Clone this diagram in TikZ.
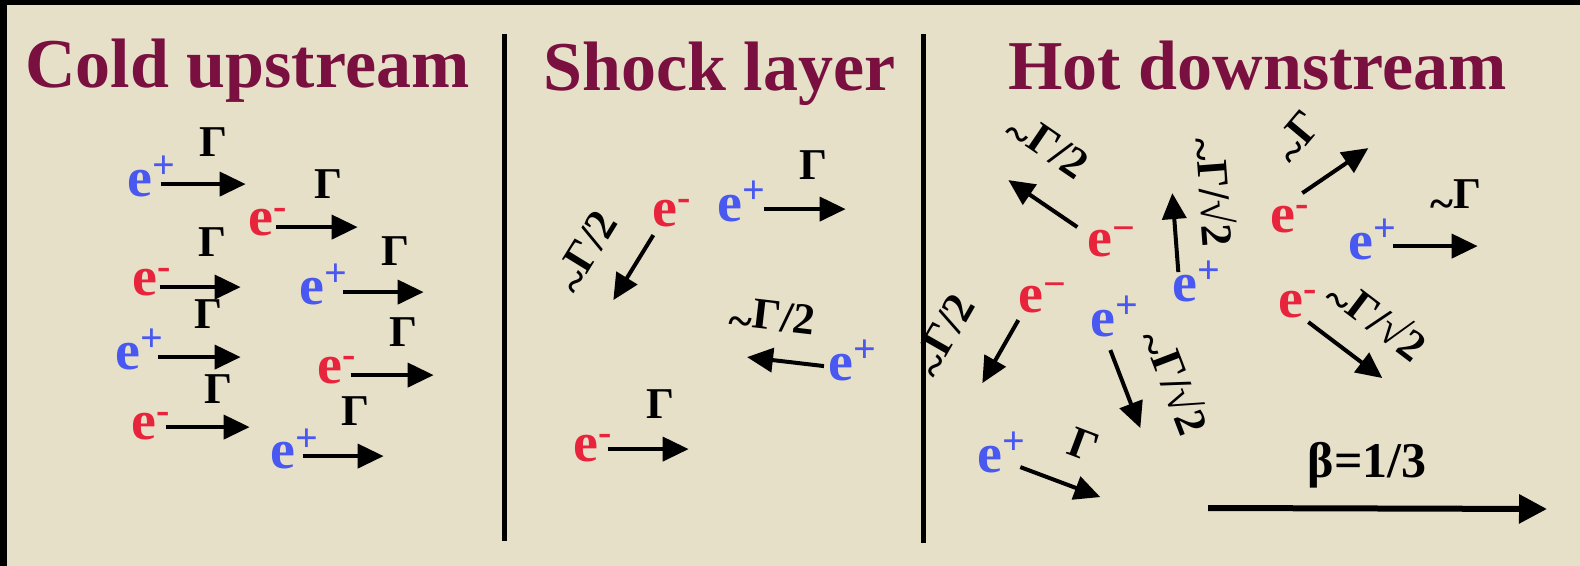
\documentclass[tikz,border=0pt]{standalone}
\usepackage{fontspec}
\setmainfont{Liberation Serif}
\usetikzlibrary{arrows.meta}

\definecolor{paper}{RGB}{231,224,201}
\definecolor{titlered}{RGB}{122,16,64}
\definecolor{posblue}{RGB}{72,88,240}
\definecolor{negred}{RGB}{232,36,60}

% charge sign set as a raised superscript that takes no width
\newcommand{\chg}[2]{\rlap{\smash{\raisebox{#1}{\fontsize{20}{20}\selectfont #2}}}}
\newcommand{\ePos}{e\chg{9pt}{+}}
\newcommand{\eNeg}{e\chg{8pt}{-}}
\newcommand{\eMin}{e\chg{7.5pt}{−}}
% tilde at mid height
\newcommand{\apx}{\raisebox{-.22em}{\textasciitilde}}

\begin{document}
\begin{tikzpicture}[
    x=0.5pt, y=-0.5pt,
    head/.style={font=\fontsize{35}{35}\selectfont\bfseries, text=titlered, anchor=base west, inner sep=0pt},
    eplus/.style={font=\fontsize{28}{28}\selectfont\bfseries, text=posblue, anchor=base west, inner sep=0pt},
    eminus/.style={font=\fontsize{28}{28}\selectfont\bfseries, text=negred, anchor=base west, inner sep=0pt},
    lab/.style={font=\fontsize{22}{22}\selectfont\bfseries, inner sep=0pt},
    arr/.style={-{Triangle[length=13pt,width=12pt]}, line width=2pt},
    divider/.style={line width=2.5pt}
]
\useasboundingbox (0,0) rectangle (1580,566);
\fill[paper] (0,0) rectangle (1580,566);
\fill[black] (0,0) rectangle (7,566);
\fill[black] (0,0) rectangle (1580,5);

% titles
\node[head] (cold)  at (25,88)   {Cold upstream};
\node[head] (shock) at (543,91)  {Shock layer};
\node[head] (hot)   at (1008,90) {Hot downstream};

% cold upstream
\node[eplus]  (c1) at (127,197) {\ePos};
\node[eminus] (c2) at (248,236) {\eNeg};
\node[eminus] (c3) at (132,296) {\eNeg};
\node[eplus]  (c4) at (299,305) {\ePos};
\node[eplus]  (c5) at (115,370) {\ePos};
\node[eminus] (c6) at (317,384) {\eNeg};
\node[eminus] (c7) at (131,440) {\eNeg};
\node[eplus]  (c8) at (270,469) {\ePos};
\draw[arr] ([shift={(8,0)}]c1.east)  -- node[lab, pos=.62, above=13pt]{Γ} ++(85,0);
\draw[arr] ([shift={(2,4)}]c2.east)  -- node[lab, pos=.65, above=13.5pt]{Γ} ++(82,0);
\draw[arr] ([shift={(2,4)}]c3.east)  -- node[lab, pos=.65, above=14.5pt]{Γ} ++(81,0);
\draw[arr] ([shift={(18,0)}]c4.east) -- node[lab, pos=.65, above=12.5pt]{Γ} ++(81,0);
\draw[arr] ([shift={(17,0)}]c5.east) -- node[lab, pos=.61, above=13.5pt]{Γ} ++(83,0);
\draw[arr] ([shift={(8,4)}]c6.east)  -- node[lab, pos=.64, above=13.5pt]{Γ} ++(83,0);
\draw[arr] ([shift={(9,0)}]c7.east)  -- node[lab, pos=.63, above=11pt]{Γ} ++(84,0);
\draw[arr] ([shift={(7,0)}]c8.east)  -- node[lab, pos=.65, above=14.5pt]{Γ} ++(81,0);

% shock layer
\node[eminus] (s1) at (652,227) {\eNeg};
\node[eplus]  (s2) at (717,222) {\ePos};
\node[eplus]  (s3) at (828,381) {\ePos};
\node[eminus] (s4) at (573,462) {\eNeg};
\draw[arr] ([shift={(-11.5,21)}]s1.center) -- node[lab, pos=.65, sloped, above=12pt]{\apx Γ/2} ++(-40,65);
\draw[arr] ([shift={(21,0)}]s2.east) -- node[lab, pos=.61, above=14pt]{Γ} ++(82,0);
\draw[arr] ([shift={(-4,-2)}]s3.west) -- node[lab, pos=.73, sloped, above=9pt]{\apx Γ/2} ++(-77,-9);
\draw[arr] ([shift={(9,0)}]s4.east) -- node[lab, pos=.65, above=14.5pt]{Γ} ++(81,0);

% hot downstream
\node[eminus] (h1) at (1087,257) {\eMin};
\node[eplus]  (h2) at (1172,302) {\ePos};
\node[eminus] (h3) at (1018,313) {\eMin};
\node[eplus]  (h4) at (1090,337) {\ePos};
\node[eplus]  (h5) at (977,473)  {\ePos};
\node[eminus] (h6) at (1270,233) {\eNeg};
\node[eplus]  (h7) at (1348,260) {\ePos};
\node[eminus] (h8) at (1278,318) {\eNeg};
\draw[arr] ([shift={(-22.5,-17)}]h1.center) -- node[lab, pos=.84, sloped, above=13pt]{\apx Γ/2} ++(-69,-47);
\draw[arr] ([shift={(-6.5,-17)}]h2.center) -- node[lab, pos=.97, sloped, above=7.7pt]{\apx Γ/√2} ++(-6,-79);
\draw[arr] ([shift={(-12.5,20)}]h3.center) -- node[lab, pos=.69, sloped, above=16pt]{\apx Γ/2} ++(-36,63);
\draw[arr] ([shift={(7.5,26)}]h4.center) -- node[lab, pos=.63, sloped, above=11.6pt]{\apx Γ/√2} ++(30,78);
\draw[arr] ([shift={(30.5,7)}]h5.center) -- node[lab, pos=.6, sloped, above=13pt]{Γ} ++(80,30);
\draw[arr] ([shift={(19.5,-27)}]h6.center) -- node[lab, pos=0, xshift=-1.5pt, yshift=27pt, rotate=50]{\apx Γ} ++(66,-45);
\draw[arr] ([shift={(19,-1)}]h7.east) -- node[lab, pos=.75, above=13pt]{\apx Γ} ++(85,0);
\draw[arr] ([shift={(17.5,17)}]h8.center) -- node[lab, pos=.57, sloped, above=9pt]{\apx Γ/√2} ++(74,56);

% frame velocity
\coordinate (v0) at (1208,508);
\coordinate (v1) at (1547,509);
\draw[line width=3pt, -{Triangle[length=14pt,width=14pt]}] (v0) --
    node[pos=.47, anchor=base, yshift=15.7pt, font=\fontsize{25}{25}\selectfont\bfseries]{β=1/3} (v1);

% region borders
\draw[divider] (504,34) -- (504,541);
\draw[divider] (923,34) -- (923,543);
\end{tikzpicture}
\end{document}
